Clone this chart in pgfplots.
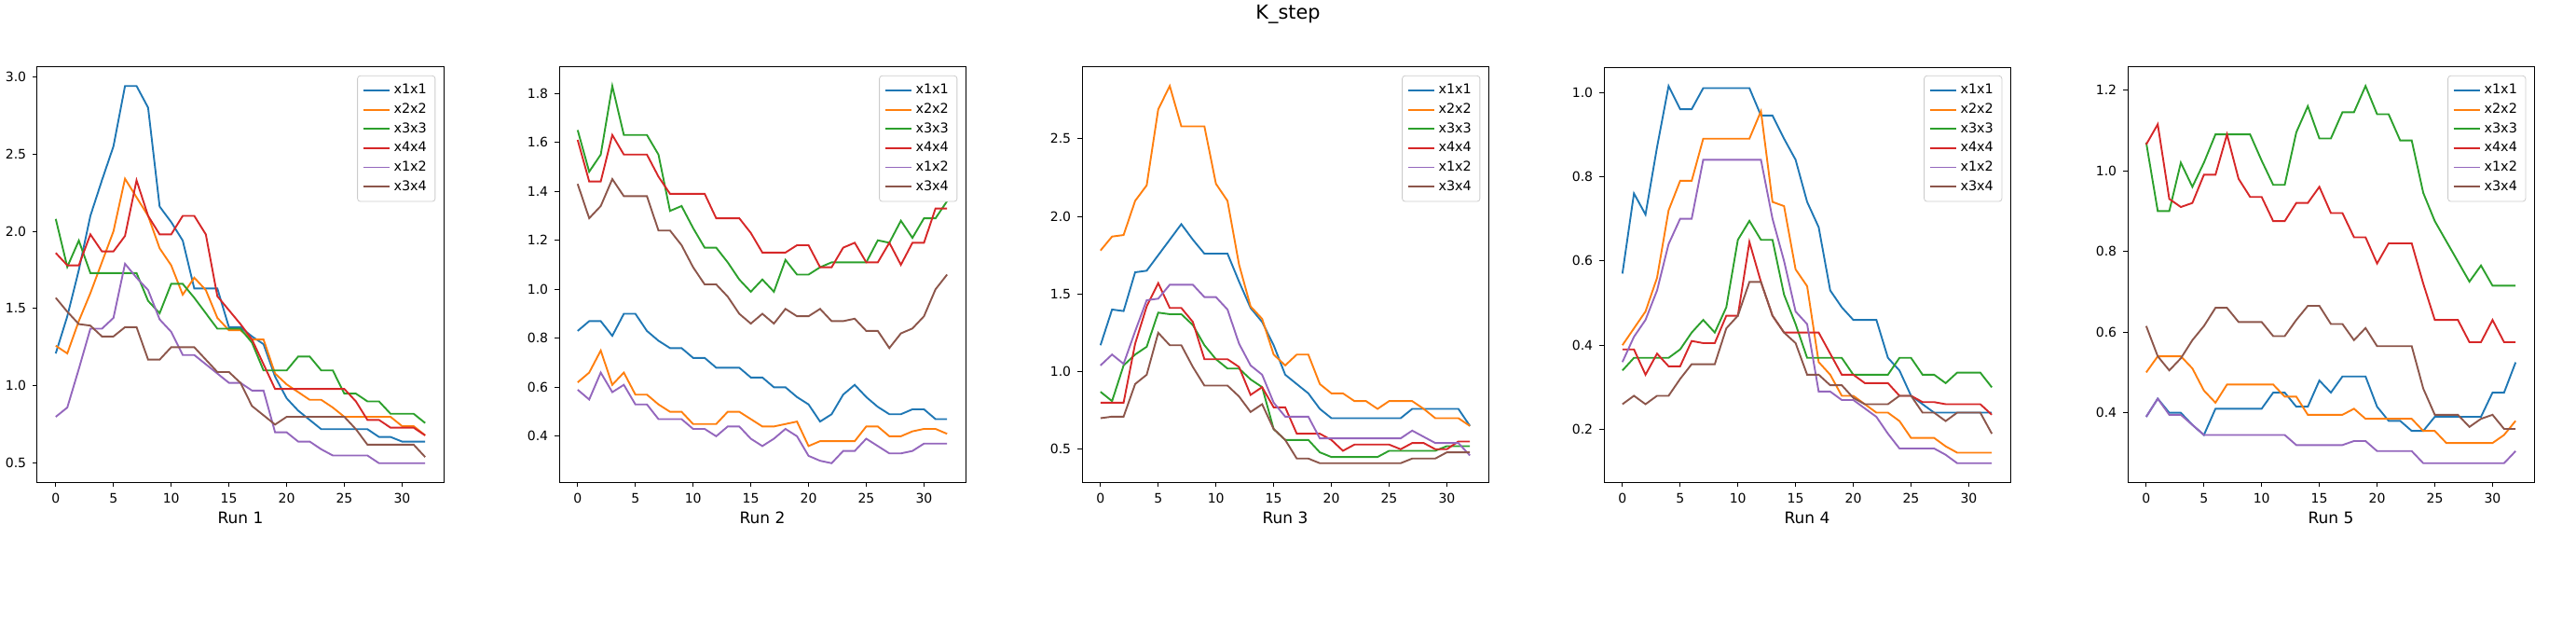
\documentclass[border=0pt]{standalone}
\usepackage{pgfplots}
\pgfplotsset{compat=1.18}
\usepackage{pgfplotstable}
\usepackage{fontspec}
\setmainfont{DejaVu Sans}
\definecolor{c0}{HTML}{1F77B4}
\definecolor{c1}{HTML}{FF7F0E}
\definecolor{c2}{HTML}{2CA02C}
\definecolor{c3}{HTML}{D62728}
\definecolor{c4}{HTML}{9467BD}
\definecolor{c5}{HTML}{8C564B}
\pgfplotstableread{
a b c d e f
1.21 1.26 2.08 1.86 0.80 1.57
1.45 1.21 1.77 1.78 0.86 1.48
1.75 1.42 1.94 1.78 1.11 1.40
2.10 1.60 1.73 1.98 1.37 1.39
2.33 1.80 1.73 1.87 1.37 1.32
2.55 2.00 1.73 1.87 1.44 1.32
2.94 2.34 1.73 1.97 1.79 1.38
2.94 2.22 1.73 2.33 1.70 1.38
2.80 2.10 1.55 2.10 1.62 1.17
2.16 1.89 1.47 1.98 1.43 1.17
2.06 1.78 1.66 1.98 1.35 1.25
1.94 1.59 1.66 2.10 1.20 1.25
1.63 1.70 1.57 2.10 1.20 1.25
1.63 1.62 1.47 1.98 1.14 1.17
1.63 1.44 1.37 1.58 1.08 1.09
1.38 1.36 1.37 1.49 1.02 1.09
1.38 1.36 1.37 1.40 1.02 1.02
1.32 1.30 1.28 1.30 0.97 0.87
1.27 1.30 1.10 1.14 0.97 0.81
1.06 1.08 1.10 0.98 0.70 0.75
0.92 1.01 1.10 0.98 0.70 0.80
0.84 0.96 1.19 0.98 0.64 0.80
0.78 0.91 1.19 0.98 0.64 0.80
0.72 0.91 1.10 0.98 0.59 0.80
0.72 0.86 1.10 0.98 0.55 0.80
0.72 0.80 0.95 0.98 0.55 0.80
0.72 0.80 0.95 0.90 0.55 0.72
0.72 0.80 0.90 0.78 0.55 0.62
0.67 0.80 0.90 0.78 0.50 0.62
0.67 0.80 0.82 0.73 0.50 0.62
0.64 0.74 0.82 0.73 0.50 0.62
0.64 0.74 0.82 0.73 0.50 0.62
0.64 0.68 0.76 0.68 0.50 0.54
}\runA
\pgfplotstableread{
a b c d e f
0.83 0.62 1.65 1.61 0.59 1.43
0.87 0.66 1.48 1.44 0.55 1.29
0.87 0.75 1.55 1.44 0.66 1.34
0.81 0.61 1.83 1.63 0.58 1.45
0.90 0.66 1.63 1.55 0.61 1.38
0.90 0.57 1.63 1.55 0.53 1.38
0.83 0.57 1.63 1.55 0.53 1.38
0.79 0.53 1.55 1.46 0.47 1.24
0.76 0.50 1.32 1.39 0.47 1.24
0.76 0.50 1.34 1.39 0.47 1.18
0.72 0.45 1.25 1.39 0.43 1.09
0.72 0.45 1.17 1.39 0.43 1.02
0.68 0.45 1.17 1.29 0.40 1.02
0.68 0.50 1.11 1.29 0.44 0.97
0.68 0.50 1.04 1.29 0.44 0.90
0.64 0.47 0.99 1.23 0.39 0.86
0.64 0.44 1.04 1.15 0.36 0.90
0.60 0.44 0.99 1.15 0.39 0.86
0.60 0.45 1.12 1.15 0.43 0.92
0.56 0.46 1.06 1.18 0.40 0.89
0.53 0.36 1.06 1.18 0.32 0.89
0.46 0.38 1.09 1.09 0.30 0.92
0.49 0.38 1.11 1.09 0.29 0.87
0.57 0.38 1.11 1.17 0.34 0.87
0.61 0.38 1.11 1.19 0.34 0.88
0.56 0.44 1.11 1.11 0.39 0.83
0.52 0.44 1.20 1.11 0.36 0.83
0.49 0.40 1.19 1.19 0.33 0.76
0.49 0.40 1.28 1.10 0.33 0.82
0.51 0.42 1.21 1.19 0.34 0.84
0.51 0.43 1.29 1.19 0.37 0.89
0.47 0.43 1.29 1.33 0.37 1.00
0.47 0.41 1.36 1.33 0.37 1.06
}\runB
\pgfplotstableread{
a b c d e f
1.17 1.78 0.87 0.80 1.04 0.70
1.40 1.87 0.81 0.80 1.11 0.71
1.39 1.88 1.04 0.80 1.05 0.71
1.64 2.10 1.11 1.18 1.26 0.92
1.65 2.20 1.16 1.42 1.46 0.98
1.75 2.69 1.38 1.57 1.47 1.25
1.85 2.84 1.37 1.41 1.56 1.17
1.95 2.58 1.37 1.41 1.56 1.17
1.85 2.58 1.30 1.32 1.56 1.03
1.76 2.58 1.17 1.08 1.48 0.91
1.76 2.21 1.08 1.08 1.48 0.91
1.76 2.10 1.02 1.08 1.40 0.91
1.58 1.69 1.02 1.03 1.18 0.84
1.41 1.42 0.95 0.85 1.04 0.74
1.32 1.34 0.90 0.90 0.98 0.79
1.17 1.11 0.63 0.77 0.80 0.63
0.98 1.04 0.56 0.77 0.71 0.56
0.92 1.11 0.56 0.60 0.71 0.44
0.86 1.11 0.56 0.60 0.71 0.44
0.76 0.92 0.48 0.60 0.57 0.41
0.70 0.86 0.45 0.56 0.57 0.41
0.70 0.86 0.45 0.49 0.57 0.41
0.70 0.81 0.45 0.53 0.57 0.41
0.70 0.81 0.45 0.53 0.57 0.41
0.70 0.76 0.45 0.53 0.57 0.41
0.70 0.81 0.49 0.53 0.57 0.41
0.70 0.81 0.49 0.50 0.57 0.41
0.76 0.81 0.49 0.54 0.62 0.44
0.76 0.76 0.49 0.54 0.58 0.44
0.76 0.70 0.49 0.50 0.54 0.44
0.76 0.70 0.52 0.50 0.54 0.48
0.76 0.70 0.52 0.55 0.54 0.48
0.65 0.65 0.52 0.55 0.46 0.48
}\runC
\pgfplotstableread{
a b c d e f
0.57 0.40 0.34 0.39 0.36 0.26
0.76 0.44 0.37 0.39 0.42 0.28
0.71 0.48 0.37 0.33 0.46 0.26
0.87 0.56 0.37 0.38 0.53 0.28
1.015 0.72 0.37 0.35 0.64 0.28
0.96 0.79 0.39 0.35 0.70 0.32
0.96 0.79 0.43 0.41 0.70 0.355
1.01 0.89 0.46 0.405 0.84 0.355
1.01 0.89 0.43 0.405 0.84 0.355
1.01 0.89 0.49 0.47 0.84 0.44
1.01 0.89 0.65 0.47 0.84 0.47
1.01 0.89 0.695 0.645 0.84 0.55
0.945 0.955 0.65 0.55 0.84 0.55
0.945 0.74 0.65 0.47 0.70 0.47
0.89 0.73 0.52 0.43 0.60 0.43
0.84 0.58 0.45 0.43 0.48 0.405
0.74 0.54 0.37 0.43 0.45 0.33
0.68 0.36 0.37 0.43 0.29 0.33
0.53 0.33 0.37 0.38 0.29 0.305
0.49 0.28 0.37 0.33 0.27 0.305
0.46 0.28 0.33 0.33 0.27 0.275
0.46 0.26 0.33 0.31 0.25 0.26
0.46 0.24 0.33 0.31 0.23 0.26
0.37 0.24 0.33 0.31 0.19 0.26
0.34 0.22 0.37 0.28 0.155 0.28
0.28 0.18 0.37 0.28 0.155 0.28
0.26 0.18 0.33 0.265 0.155 0.24
0.24 0.18 0.33 0.265 0.155 0.24
0.24 0.16 0.31 0.26 0.14 0.22
0.24 0.145 0.335 0.26 0.12 0.24
0.24 0.145 0.335 0.26 0.12 0.24
0.24 0.145 0.335 0.26 0.12 0.24
0.24 0.145 0.30 0.235 0.12 0.19
}\runD
\pgfplotstableread{
a b c d e f
0.39 0.50 1.07 1.065 0.39 0.615
0.435 0.54 0.90 1.115 0.435 0.54
0.40 0.54 0.90 0.93 0.395 0.505
0.40 0.54 1.02 0.91 0.395 0.535
0.37 0.51 0.96 0.92 0.37 0.58
0.345 0.455 1.02 0.99 0.345 0.615
0.41 0.425 1.09 0.99 0.345 0.66
0.41 0.47 1.09 1.09 0.345 0.66
0.41 0.47 1.09 0.98 0.345 0.625
0.41 0.47 1.09 0.935 0.345 0.625
0.41 0.47 1.025 0.935 0.345 0.625
0.45 0.47 0.965 0.875 0.345 0.59
0.45 0.44 0.965 0.875 0.345 0.59
0.415 0.44 1.095 0.92 0.32 0.63
0.415 0.395 1.16 0.92 0.32 0.665
0.48 0.395 1.08 0.96 0.32 0.665
0.45 0.395 1.08 0.895 0.32 0.62
0.49 0.395 1.145 0.895 0.32 0.62
0.49 0.41 1.145 0.835 0.33 0.58
0.49 0.385 1.21 0.835 0.33 0.61
0.415 0.385 1.14 0.77 0.305 0.565
0.38 0.385 1.14 0.82 0.305 0.565
0.38 0.385 1.075 0.82 0.305 0.565
0.355 0.385 1.075 0.82 0.305 0.565
0.355 0.355 0.945 0.72 0.275 0.46
0.39 0.355 0.875 0.63 0.275 0.395
0.39 0.325 0.825 0.63 0.275 0.395
0.39 0.325 0.775 0.63 0.275 0.395
0.39 0.325 0.725 0.575 0.275 0.365
0.39 0.325 0.765 0.575 0.275 0.385
0.45 0.325 0.715 0.63 0.275 0.395
0.45 0.345 0.715 0.575 0.275 0.36
0.525 0.38 0.715 0.575 0.305 0.36
}\runE
\pgfplotsset{
  panel/.style={
    width=218pt, height=222.5pt, scale only axis,
    anchor=south west,
    xmin=-1.6, xmax=33.6, enlarge y limits=0.05,
    xtick={0,5,...,30},
    tick align=outside, tick pos=left,
    major tick length=2.4pt,
    axis line style={line width=0.5pt},
    every tick/.style={black, line width=0.5pt},
    tick label style={font=\fontsize{7}{8}\selectfont},
    /pgf/number format/assume math mode=true,
    yticklabel style={/pgf/number format/fixed,/pgf/number format/fixed zerofill,/pgf/number format/precision=1},
    xlabel style={font=\fontsize{8.5}{9}\selectfont, yshift=2pt},
    legend style={at={(0.98,0.98)}, anchor=north east, draw=black!20, rounded corners=1.5pt,
      font=\fontsize{7.2}{8.5}\selectfont, row sep=-0.5pt, inner sep=2.5pt},
    legend cell align=left,
    legend image code/.code={\draw[##1] (0pt,0pt) -- (14pt,0pt);},
    cycle list={{c0,line width=0.95pt},{c1,line width=0.95pt},{c2,line width=0.95pt},{c3,line width=0.95pt},{c4,line width=0.95pt},{c5,line width=0.95pt}},
    legend entries={x1x1,x2x2,x3x3,x4x4,x1x2,x3x4},
  }
}
\newcommand\plotall[1]{%
  \addplot table[x expr=\coordindex, y=a]{#1};
  \addplot table[x expr=\coordindex, y=b]{#1};
  \addplot table[x expr=\coordindex, y=c]{#1};
  \addplot table[x expr=\coordindex, y=d]{#1};
  \addplot table[x expr=\coordindex, y=e]{#1};
  \addplot table[x expr=\coordindex, y=f]{#1};
  \node[anchor=south west, font=\fontsize{7}{8}\selectfont, inner sep=1pt] at (rel axis cs:0,1) {1e6};
}
\begin{document}
\begin{tikzpicture}
\path[use as bounding box] (0,0) rectangle (1382pt,332.5pt);
\node[font=\fontsize{10.4}{12}\selectfont] at (691pt,325pt) {K\_step};
\begin{axis}[panel, at={(20pt,74pt)}, xlabel={Run 1}, ytick={0.5,1,...,3}]
\plotall{\runA}
\end{axis}
\begin{axis}[panel, at={(300pt,74pt)}, xlabel={Run 2}, ytick={0.4,0.6,...,1.81}]
\plotall{\runB}
\end{axis}
\begin{axis}[panel, at={(580.5pt,74pt)}, xlabel={Run 3}, ytick={0.5,1,...,2.5}]
\plotall{\runC}
\end{axis}
\begin{axis}[panel, at={(860.5pt,74pt)}, xlabel={Run 4}, ytick={0.2,0.4,...,1.01}]
\plotall{\runD}
\end{axis}
\begin{axis}[panel, at={(1141.5pt,74pt)}, xlabel={Run 5}, ytick={0.4,0.6,...,1.21}]
\plotall{\runE}
\end{axis}
\end{tikzpicture}
\end{document}
